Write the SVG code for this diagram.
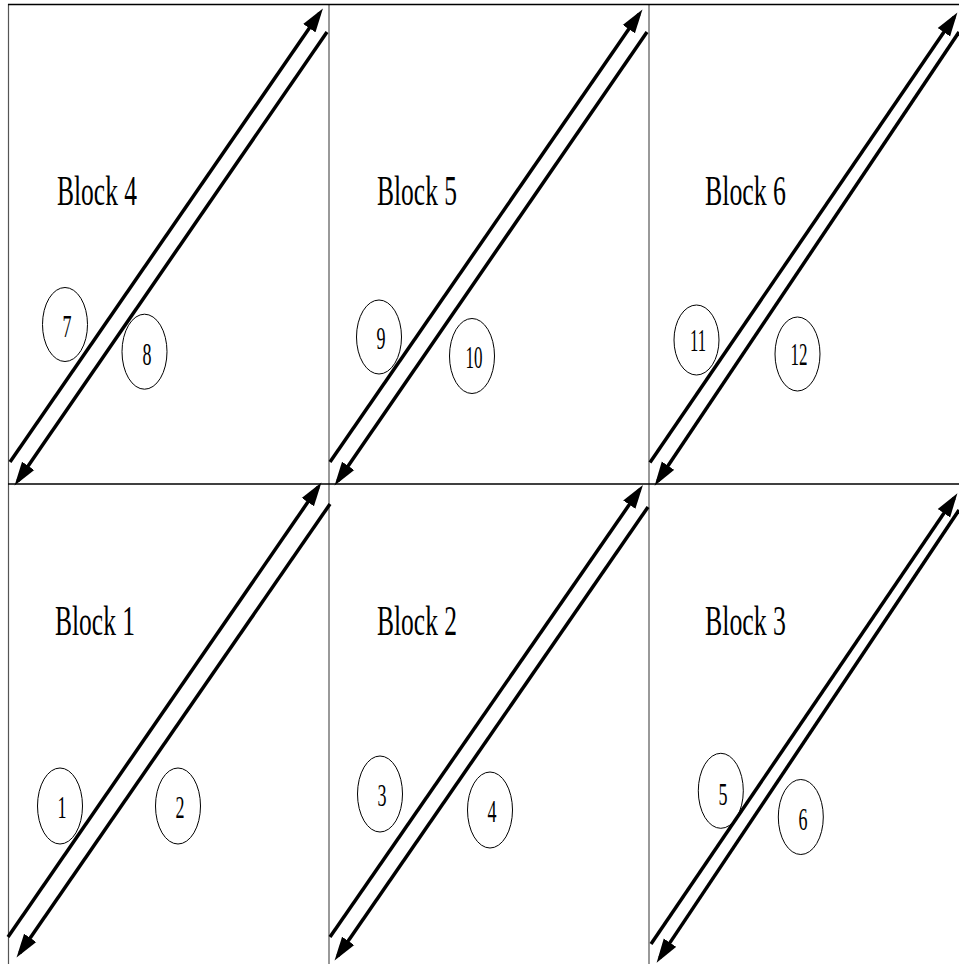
<svg xmlns="http://www.w3.org/2000/svg" width="959" height="964" viewBox="0 0 959 964">
<style>
.grid{stroke:#555;stroke-width:1.2;fill:none}
.hgrid{stroke:#000;stroke-width:1.5;fill:none}
.arr{stroke:#000;stroke-width:3.5;fill:none;marker-end:url(#ah)}
.node{fill:none;stroke:#000;stroke-width:1}
.lbl{font-family:"Liberation Serif","Times New Roman",serif;font-size:42px;fill:#000}
.num{font-family:"Liberation Serif","Times New Roman",serif;font-size:31px;fill:#000;text-anchor:middle}
</style>
<defs>
<marker id="ah" markerUnits="userSpaceOnUse" markerWidth="24" markerHeight="16" refX="16" refY="6.5" orient="auto" viewBox="0 0 21 13">
<path d="M0,0 L21,6.5 L0,13 z" fill="#000"/>
</marker>
</defs>
<rect width="959" height="964" fill="#fff"/>
<g id="grid">
<line class="grid" x1="8.5" y1="4" x2="8.5" y2="964"/>
<line class="grid" x1="329" y1="4" x2="329" y2="964"/>
<line class="grid" x1="649" y1="4" x2="649" y2="964"/>
<line class="hgrid" x1="8" y1="4.5" x2="959" y2="4.5"/>
<line class="hgrid" x1="8" y1="484" x2="959" y2="484"/>
</g>
<g id="connectors">
<line class="arr" x1="10" y1="462" x2="319.7" y2="13.1"/>
<line class="arr" x1="327" y1="32" x2="17.8" y2="480.9"/>
<line class="arr" x1="330" y1="462" x2="639.2" y2="14.1"/>
<line class="arr" x1="647" y1="32" x2="337.8" y2="480.9"/>
<line class="arr" x1="650" y1="462.5" x2="954.2" y2="17.1"/>
<line class="arr" x1="959" y1="32" x2="657.8" y2="480.9"/>
<line class="arr" x1="8" y1="937" x2="318.2" y2="487.1"/>
<line class="arr" x1="330" y1="504" x2="19.8" y2="952.9"/>
<line class="arr" x1="330" y1="937" x2="639.7" y2="489.6"/>
<line class="arr" x1="648" y1="507" x2="337.8" y2="955.9"/>
<line class="arr" x1="651" y1="944" x2="954.2" y2="498.1"/>
<line class="arr" x1="959" y1="510" x2="659.8" y2="957.9"/>
</g>
<g id="block4"><text class="lbl" x="57" y="205" textLength="80" lengthAdjust="spacingAndGlyphs">Block 4</text></g>
<g id="block5"><text class="lbl" x="377" y="205" textLength="80" lengthAdjust="spacingAndGlyphs">Block 5</text></g>
<g id="block6"><text class="lbl" x="705" y="205" textLength="81" lengthAdjust="spacingAndGlyphs">Block 6</text></g>
<g id="block1"><text class="lbl" x="55" y="635" textLength="80" lengthAdjust="spacingAndGlyphs">Block 1</text></g>
<g id="block2"><text class="lbl" x="377" y="635" textLength="80" lengthAdjust="spacingAndGlyphs">Block 2</text></g>
<g id="block3"><text class="lbl" x="705" y="635" textLength="81" lengthAdjust="spacingAndGlyphs">Block 3</text></g>
<g id="n7"><ellipse class="node" cx="65" cy="324.5" rx="22.5" ry="37"/><text class="num" x="67" y="337" textLength="9" lengthAdjust="spacingAndGlyphs">7</text></g>
<g id="n8"><ellipse class="node" cx="144.5" cy="351.7" rx="22.5" ry="37.5"/><text class="num" x="147" y="365" textLength="9" lengthAdjust="spacingAndGlyphs">8</text></g>
<g id="n9"><ellipse class="node" cx="379" cy="337" rx="22.5" ry="37"/><text class="num" x="381" y="349" textLength="9" lengthAdjust="spacingAndGlyphs">9</text></g>
<g id="n10"><ellipse class="node" cx="472" cy="356" rx="22.5" ry="37.5"/><text class="num" x="474" y="368" textLength="17" lengthAdjust="spacingAndGlyphs">10</text></g>
<g id="n11"><ellipse class="node" cx="696.5" cy="340" rx="22.5" ry="35"/><text class="num" x="698" y="351" textLength="16" lengthAdjust="spacingAndGlyphs">11</text></g>
<g id="n12"><ellipse class="node" cx="797.5" cy="354" rx="22.5" ry="37"/><text class="num" x="799" y="365" textLength="17" lengthAdjust="spacingAndGlyphs">12</text></g>
<g id="n1"><ellipse class="node" cx="60" cy="806" rx="22.5" ry="38"/><text class="num" x="62" y="818" textLength="9" lengthAdjust="spacingAndGlyphs">1</text></g>
<g id="n2"><ellipse class="node" cx="178" cy="806" rx="22.5" ry="38"/><text class="num" x="180" y="818" textLength="9" lengthAdjust="spacingAndGlyphs">2</text></g>
<g id="n3"><ellipse class="node" cx="380" cy="794" rx="22.5" ry="38"/><text class="num" x="382" y="806" textLength="9" lengthAdjust="spacingAndGlyphs">3</text></g>
<g id="n4"><ellipse class="node" cx="490" cy="810" rx="22.5" ry="38"/><text class="num" x="492" y="822" textLength="9" lengthAdjust="spacingAndGlyphs">4</text></g>
<g id="n5"><ellipse class="node" cx="720.8" cy="790.8" rx="22.5" ry="37.5"/><text class="num" x="723" y="805" textLength="9" lengthAdjust="spacingAndGlyphs">5</text></g>
<g id="n6"><ellipse class="node" cx="800.8" cy="817" rx="22.5" ry="37.5"/><text class="num" x="803" y="830" textLength="9" lengthAdjust="spacingAndGlyphs">6</text></g>
</svg>
